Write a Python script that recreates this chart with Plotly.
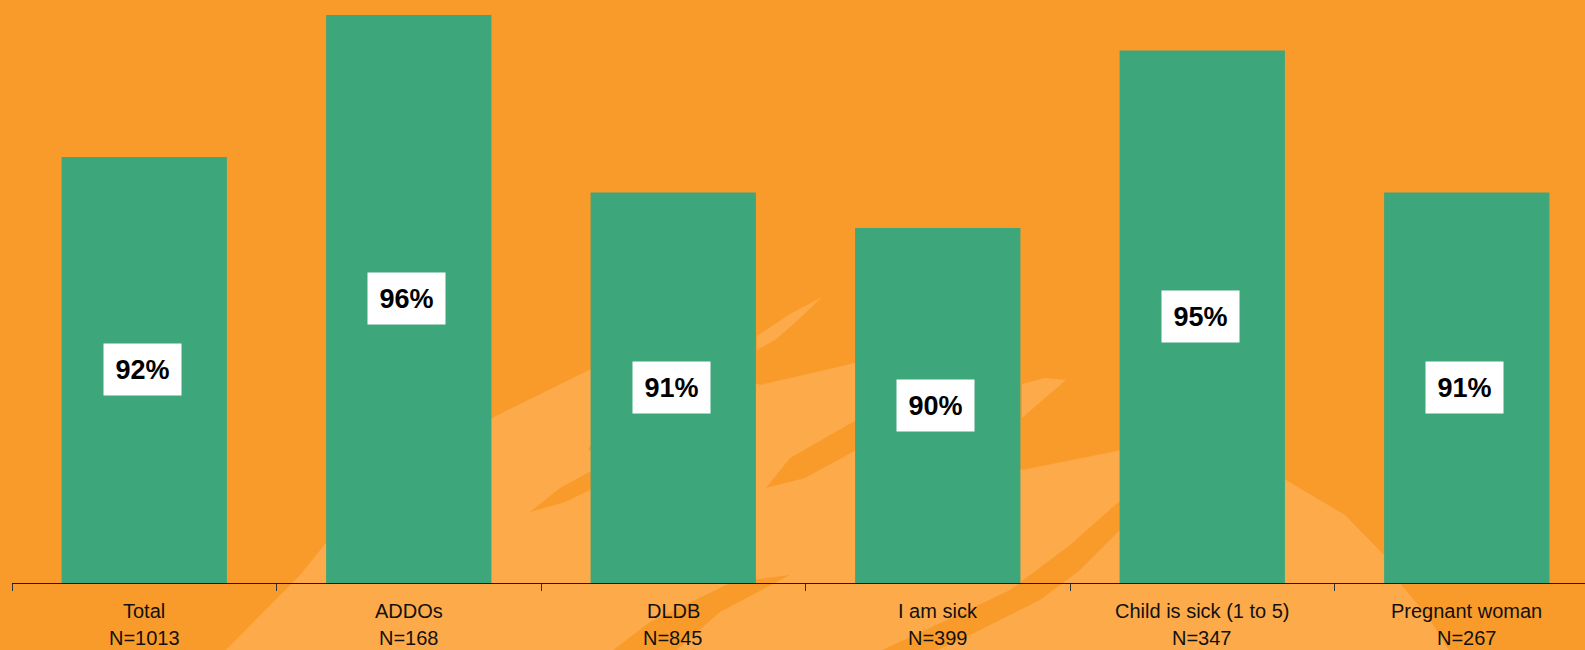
import plotly.graph_objects as go

# ---- data ----
categories = ["Total", "ADDOs", "DLDB", "I am sick", "Child is sick (1 to 5)", "Pregnant woman"]
sample_sizes = [1013, 168, 845, 399, 347, 267]
percent = [92, 96, 91, 90, 95, 91]

# ---- layout constants ----
W, H = 1585, 650
L_M, B_M = 12, 67
PLOT_W = W - L_M
PLOT_H = H - B_M
Y_MIN, Y_MAX = 80, 96.42
X_MAX = 5.447

ORANGE = "#F99B2A"
LIGHT = "#FDAA4A"
GREEN = "#3EA67B"
FONT = "Arial, Liberation Sans, sans-serif"


def to_paper(x, y):
    """Convert page pixels to paper coordinates of the plot area."""
    return (x - L_M) / PLOT_W, (PLOT_H - y) / PLOT_H


def poly(points):
    pts = [to_paper(*p) for p in points]
    return "M " + " L ".join(f"{a:.4f},{b:.4f}" for a, b in pts) + " Z"


# faint logo watermark in the background: lighter body plus darker swooshes
watermark_light = [
    [(222, 700), (226, 650), (300, 575), (326, 543), (420, 470), (494, 417), (593, 368),
     (680, 350), (760, 385), (855, 363), (940, 420), (1022, 470), (1122, 450), (1200, 452),
     (1286, 480), (1345, 515), (1384, 555), (1400, 583), (1430, 620), (1455, 660), (1470, 700)],
    [(757, 350), (757, 336), (790, 314), (822, 297), (798, 320), (775, 340)],
    [(1022, 384), (1045, 378), (1066, 380), (1045, 398), (1022, 418)],
]
watermark_dark = [
    [(530, 512), (560, 488), (615, 458), (615, 478), (565, 502)],
    [(588, 450), (600, 428), (615, 422), (615, 452)],
    [(766, 488), (790, 458), (860, 418), (860, 448), (805, 478)],
    [(600, 660), (650, 622), (730, 583), (790, 575), (720, 612), (665, 660)],
    [(860, 660), (930, 628), (1010, 590), (1070, 545), (1130, 492), (1130, 520), (1080, 570),
     (1040, 600), (960, 640), (915, 660)],
]

shapes = []
for pts in watermark_light:
    shapes.append(dict(type="path", path=poly(pts), xref="paper", yref="paper",
                       fillcolor=LIGHT, line=dict(width=0), layer="below"))
for pts in watermark_dark:
    shapes.append(dict(type="path", path=poly(pts), xref="paper", yref="paper",
                       fillcolor=ORANGE, line=dict(width=0), layer="below"))

fig = go.Figure()
fig.add_trace(go.Bar(
    x=categories, y=percent,
    marker=dict(color=GREEN, line=dict(width=0)),
    hoverinfo="skip",
))

annotations = []
# white value boxes in the middle of each bar
for cat, v in zip(categories, percent):
    annotations.append(dict(
        x=cat, y=(Y_MIN + v) / 2, xref="x", yref="y",
        text=f"<b>{v}%</b>", showarrow=False,
        font=dict(family=FONT, size=27, color="#000000"),
        bgcolor="#FFFFFF", width=75, height=49, borderpad=1,
        xanchor="center", yanchor="middle", xshift=-2,
    ))
# two-line category labels under the axis
for cat, n in zip(categories, sample_sizes):
    annotations.append(dict(
        x=cat, y=0, xref="x", yref="paper", text=cat, showarrow=False,
        font=dict(family=FONT, size=20, color="#111111"),
        xanchor="center", yanchor="middle", yshift=-28,
    ))
    annotations.append(dict(
        x=cat, y=0, xref="x", yref="paper", text=f"N={n}", showarrow=False,
        font=dict(family=FONT, size=20, color="#111111"),
        xanchor="center", yanchor="middle", yshift=-55,
    ))

fig.update_layout(
    width=W, height=H,
    margin=dict(l=L_M, r=0, t=0, b=B_M, pad=0),
    paper_bgcolor=ORANGE,
    plot_bgcolor="rgba(0,0,0,0)",
    bargap=0.375,
    showlegend=False,
    shapes=shapes,
    annotations=annotations,
    xaxis=dict(
        range=[-0.5, X_MAX], showgrid=False, zeroline=False,
        showline=True, linecolor="#1a1a1a", linewidth=1,
        ticks="outside", tickson="boundaries", ticklen=7,
        tickcolor="#333333", tickwidth=1, showticklabels=False,
        fixedrange=True,
    ),
    yaxis=dict(
        range=[Y_MIN, Y_MAX], visible=False, showgrid=False,
        zeroline=False, fixedrange=True,
    ),
)

fig.write_html("out.html", config=dict(displayModeBar=False))
